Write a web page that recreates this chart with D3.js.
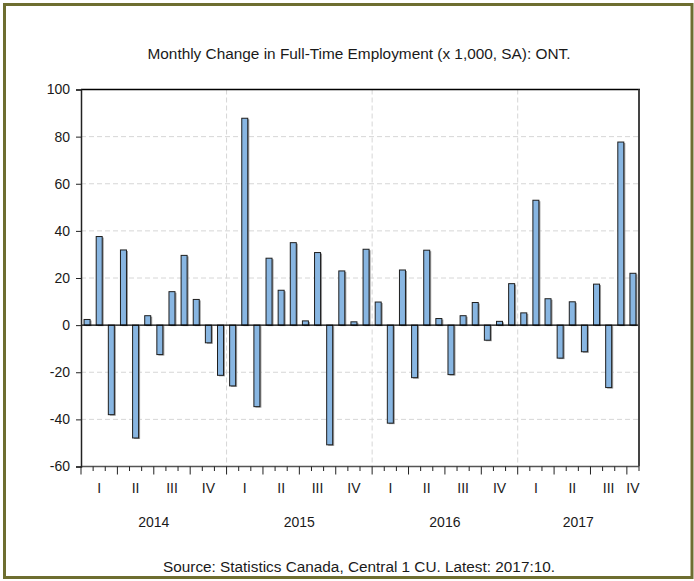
<!DOCTYPE html>
<html><head><meta charset="utf-8">
<script src="https://cdn.jsdelivr.net/npm/d3@7"></script>
<style>body{margin:0;background:#fff}svg{display:block}text{font-family:"Liberation Sans",Arial,sans-serif;fill:#1a1a1a}</style>
</head><body><svg id="c" width="694" height="581"></svg>
<script>
const titleText = "Monthly Change in Full-Time Employment (x 1,000, SA): ONT.";
const sourceText = "Source: Statistics Canada, Central 1 CU. Latest: 2017:10.";
const months = [];
for (let y = 2014; y <= 2017; y++) for (let m = 1; m <= 12; m++) { if (y === 2017 && m > 10) break; months.push(y + "-" + String(m).padStart(2, "0")); }
const values = [
  2.4, 37.6, -38.0, 31.9, -47.9, 4.0, -12.5, 14.2, 29.6, 10.9, -7.5, -21.3,
  -25.8, 87.8, -34.6, 28.4, 14.8, 35.0, 1.8, 30.8, -50.8, 23.0, 1.4, 32.2,
  9.8, -41.6, 23.4, -22.3, 31.8, 2.8, -21.0, 4.0, 9.6, -6.4, 1.6, 17.6,
  5.2, 53.0, 11.2, -14.0, 9.9, -11.3, 17.4, -26.5, 77.7, 22.0
];
const yTicks = [-60, -40, -20, 0, 20, 40, 60, 80, 100];
const years = ["2014", "2015", "2016", "2017"];
const quarterLabels = ["I", "II", "III", "IV"];

const svg = d3.select("#c");
const L = 81, R = 639, T = 89.5, B = 466.5;

// outer frame
svg.append("rect").attr("x", 4.5).attr("y", 4.5).attr("width", 687.5).attr("height", 573).attr("fill", "none").attr("stroke", "#6e6e30").attr("stroke-width", 3);

const x = d3.scaleBand().domain(months).range([L, R]).paddingInner(0.5).paddingOuter(0.25);
const step = (R - L) / months.length;
const y = d3.scaleLinear().domain([-60, 100]).range([B, T]);

// gridlines
svg.append("g").selectAll("line").data(yTicks.filter(d => d !== 0 && d !== 100 && d !== -60)).join("line")
  .attr("x1", L).attr("x2", R).attr("y1", d => y(d)).attr("y2", d => y(d))
  .attr("stroke", "#d6d6d6").attr("stroke-dasharray", "5,3");
[12, 24, 36].forEach(i => {
  svg.append("line").attr("x1", L + i * step).attr("x2", L + i * step).attr("y1", T).attr("y2", B)
    .attr("stroke", "#d6d6d6").attr("stroke-dasharray", "5,3");
});

// bars shadow + bars
const bw = 6;
svg.append("g").selectAll("rect").data(values).join("rect")
  .attr("x", (d, i) => x(months[i]) + x.bandwidth() / 2 - bw / 2 + 1.5)
  .attr("y", d => Math.min(y(d), y(0)) + 1)
  .attr("width", bw).attr("height", d => Math.abs(y(d) - y(0)))
  .attr("fill", "#9a9a9a");
svg.append("g").selectAll("rect").data(values).join("rect")
  .attr("x", (d, i) => x(months[i]) + x.bandwidth() / 2 - bw / 2)
  .attr("y", d => Math.min(y(d), y(0)))
  .attr("width", bw).attr("height", d => Math.abs(y(d) - y(0)))
  .attr("fill", "#88b6e2").attr("stroke", "#1e1e1e").attr("stroke-width", 1);

// zero line
svg.append("line").attr("x1", L).attr("x2", R).attr("y1", y(0)).attr("y2", y(0)).attr("stroke", "#000").attr("stroke-width", 1.2);

// frame
svg.append("line").attr("x1", L).attr("x2", R + 1).attr("y1", T).attr("y2", T).attr("stroke", "#000").attr("stroke-width", 1.5);
svg.append("line").attr("x1", R).attr("x2", R).attr("y1", T).attr("y2", B).attr("stroke", "#444").attr("stroke-width", 2);
svg.append("line").attr("x1", L).attr("x2", R).attr("y1", B).attr("y2", B).attr("stroke", "#555").attr("stroke-width", 1.5);

// y axis
const yAxis = d3.axisLeft(y).tickValues(yTicks).tickSize(5).tickPadding(6).tickFormat(d => String(d));
const gy = svg.append("g").attr("transform", `translate(${L},0)`).call(yAxis);
gy.select(".domain").attr("stroke", "#222").attr("stroke-width", 1.5);
gy.selectAll(".tick line").attr("stroke", "#222");
gy.selectAll("text").attr("font-size", 14).style("fill", "#1a1a1a").attr("font-family", "Liberation Sans, Arial, sans-serif");

// x ticks (month boundaries)
const bounds = d3.range(0, months.length + 1);
svg.append("g").selectAll("line").data(bounds).join("line")
  .attr("x1", d => L + d * step).attr("x2", d => L + d * step)
  .attr("y1", B).attr("y2", d => d % 3 === 0 ? B + 8 : B + 4.5)
  .attr("stroke", "#222").attr("stroke-width", 1);

// quarter labels
const qs = [];
for (let q = 0; q < 16; q++) {
  const s = q * 3, e = Math.min(q * 3 + 3, months.length);
  if (s >= months.length) break;
  qs.push({ label: quarterLabels[q % 4], cx: L + (s + e) / 2 * step });
}
svg.append("g").selectAll("text").data(qs).join("text")
  .attr("x", d => d.cx).attr("y", 493).attr("text-anchor", "middle").attr("font-size", 14)
  .text(d => d.label);

// year labels
svg.append("g").selectAll("text").data(years).join("text")
  .attr("x", (d, i) => { const s = i * 12, e = Math.min(s + 12, months.length); return L + (s + e) / 2 * step; })
  .attr("y", 527).attr("text-anchor", "middle").attr("font-size", 14)
  .text(d => d);

// title and source
svg.append("text").attr("x", 359).attr("y", 59).attr("text-anchor", "middle").attr("font-size", 14)
  .attr("textLength", 423).attr("lengthAdjust", "spacingAndGlyphs").text(titleText);
svg.append("text").attr("x", 359).attr("y", 572).attr("text-anchor", "middle").attr("font-size", 14)
  .attr("textLength", 392).attr("lengthAdjust", "spacingAndGlyphs").text(sourceText);
</script></body></html>
